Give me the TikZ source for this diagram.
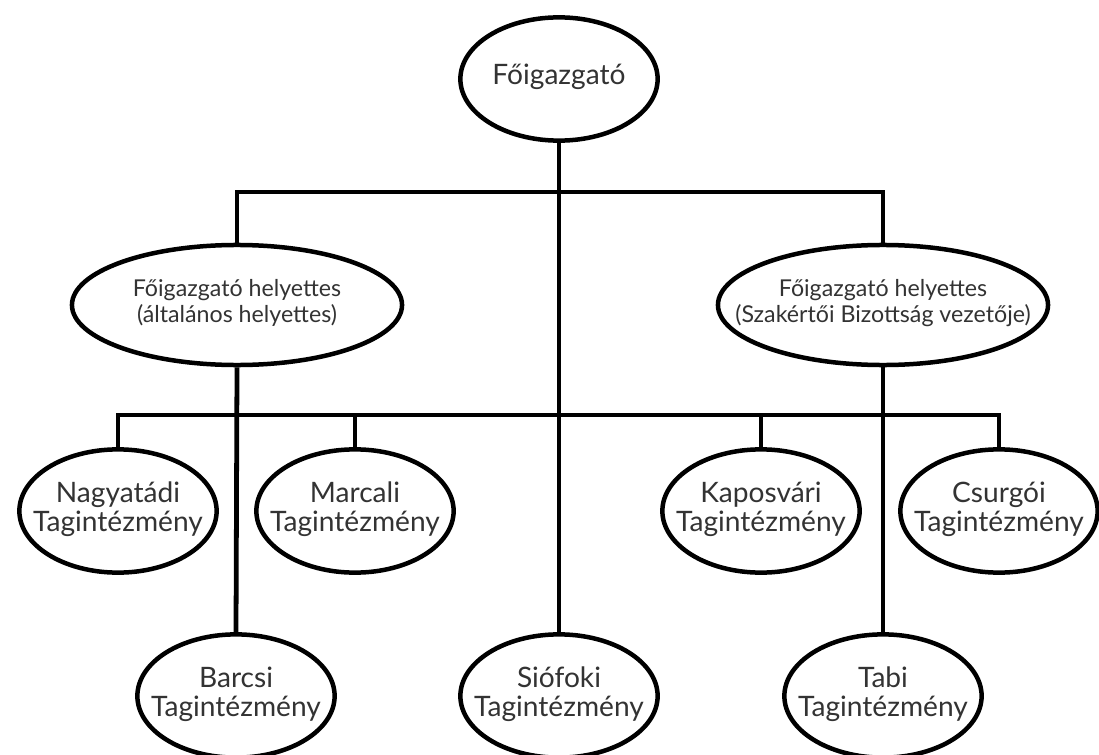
\documentclass[tikz,border=0pt]{standalone}
\usepackage{fontspec}
\setmainfont{Lato}
\usepackage{xcolor}
\usetikzlibrary{shapes.geometric}
\definecolor{textgray}{HTML}{333333}
% text that does not widen the ellipse
\newcommand{\ovaltext}[1]{\makebox[0pt]{\raisebox{-0.25em}[0pt][0pt]{\begin{tabular}{@{}c@{}}#1\end{tabular}}}}

\begin{document}
\begin{tikzpicture}[
    x=0.025cm, y=-0.025cm,
    line width=3.4pt,
    unit/.style={ellipse, draw, line width=3.2pt, minimum width=4.93cm, minimum height=3.08cm, inner sep=0pt, text=textgray, font=\fontsize{20}{20.5}\selectfont},
    deputy/.style={unit, minimum width=8.25cm, minimum height=3.0cm, font=\fontsize{16.5}{18}\selectfont}
]
\useasboundingbox (0,0) rectangle (1099,755);
\clip (0,0) rectangle (1099,755);
\fill[white] (0,0) rectangle (1099,755);

% Top
\node[unit] (fo) at (559,79) {\ovaltext{Főigazgató}};

% Deputies
\node[deputy] (hely1) at (237,305) {\ovaltext{Főigazgató helyettes\\(általános helyettes)}};
\node[deputy] (hely2) at (883,305) {\ovaltext{Főigazgató helyettes\\(Szakértői Bizottság vezetője)}};

% Member institutions
\node[unit] (nagy) at (118,511) {\ovaltext{Nagyatádi\\Tagintézmény}};
\node[unit] (marc) at (355,511) {\ovaltext{Marcali\\Tagintézmény}};
\node[unit] (kap) at (761,511) {\ovaltext{Kaposvári\\Tagintézmény}};
\node[unit] (csur) at (999,511) {\ovaltext{Csurgói\\Tagintézmény}};
\node[unit] (barcs) at (236,696) {\ovaltext{Barcsi\\Tagintézmény}};
\node[unit] (sio) at (559,696) {\ovaltext{Siófoki\\Tagintézmény}};
\node[unit] (tabi) at (883,696) {\ovaltext{Tabi\\Tagintézmény}};

% Lines
\coordinate (bus1) at (559,192);
\coordinate (bus2) at (559,415);
\draw (fo.south) -- (sio.north);
\draw (hely1.north) |- (bus1) -| (hely2.north);
\draw (hely1.south) -- (barcs.north);
\draw (hely2.south) -- (tabi.north);
\draw (nagy.north) |- (bus2) -| (csur.north);
\draw (marc.north) -- (marc.north |- bus2);
\draw (kap.north) -- (kap.north |- bus2);

\end{tikzpicture}
\end{document}
